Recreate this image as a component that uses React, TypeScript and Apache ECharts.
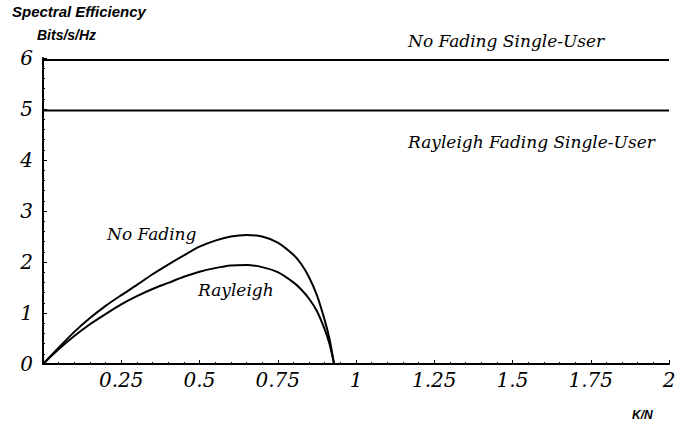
import React, { useEffect, useRef } from "react";
import * as echarts from "echarts";

// Load per dimension K/N
const kOverN = [0, 0.05, 0.1, 0.15, 0.2, 0.25, 0.3, 0.35, 0.4, 0.45, 0.5, 0.55, 0.6, 0.65, 0.7, 0.75, 0.8, 0.825, 0.85, 0.875, 0.9, 0.915, 0.93];

// Spectral efficiency (bits/s/Hz) of the multiuser schemes
const noFading = [0, 0.32, 0.63, 0.9, 1.14, 1.35, 1.55, 1.76, 1.95, 2.13, 2.3, 2.42, 2.5, 2.53, 2.5, 2.38, 2.14, 1.96, 1.7, 1.35, 0.86, 0.5, 0];
const rayleigh = [0, 0.29, 0.55, 0.78, 0.98, 1.17, 1.33, 1.47, 1.59, 1.71, 1.81, 1.88, 1.93, 1.94, 1.9, 1.8, 1.6, 1.46, 1.28, 1.04, 0.68, 0.4, 0];

// Single-user bounds, flat over the whole K/N range
const singleUserRange = [0, 2];
const noFadingSingleUser = 5.96;
const rayleighSingleUser = 4.97;

const xTicks = [0.25, 0.5, 0.75, 1, 1.25, 1.5, 1.75, 2];

const serifItalic = { fontFamily: "DejaVu Serif", fontStyle: "italic" as const };

export default function App() {
  const ref = useRef<HTMLDivElement>(null);

  useEffect(() => {
    if (!ref.current) return;
    const chart = echarts.init(ref.current, null, { renderer: "svg" });

    const pairs = (xs: number[], ys: number[]) => xs.map((x, i) => [x, ys[i]]);
    const flat = (v: number) => singleUserRange.map((x) => [x, v]);

    const lineBase = {
      type: "line" as const,
      symbol: "none",
      silent: true,
      lineStyle: { color: "#000", width: 2 },
    };

    chart.setOption({
      animation: false,
      backgroundColor: "#fff",
      grid: { left: 43, right: 16, top: 58, bottom: 64, containLabel: false },
      xAxis: {
        type: "value",
        min: 0,
        max: 2,
        interval: 0.25,
        splitLine: { show: false },
        axisLine: { lineStyle: { color: "#000", width: 2 } },
        axisTick: { inside: true, length: 4, lineStyle: { color: "#000", width: 1 } },
        minorTick: { show: true, splitNumber: 5, length: 2, lineStyle: { color: "#000", width: 1 } },
        axisLabel: {
          ...serifItalic,
          color: "#000",
          fontSize: 20,
          margin: 6,
          formatter: (v: number) => (xTicks.includes(v) ? String(v) : ""),
        },
      },
      yAxis: {
        type: "value",
        min: 0,
        max: 6,
        interval: 1,
        splitLine: { show: false },
        axisLine: { show: true, lineStyle: { color: "#000", width: 2 } },
        axisTick: { show: true, inside: true, length: 4, lineStyle: { color: "#000", width: 1 } },
        minorTick: { show: true, splitNumber: 5, length: 2, lineStyle: { color: "#000", width: 1 } },
        axisLabel: {
          ...serifItalic,
          color: "#000",
          fontSize: 20,
          margin: 10,
        },
      },
      series: [
        { ...lineBase, name: "No Fading Single-User", data: flat(noFadingSingleUser) },
        { ...lineBase, name: "Rayleigh Fading Single-User", data: flat(rayleighSingleUser) },
        { ...lineBase, name: "No Fading", smooth: 0.3, data: pairs(kOverN, noFading) },
        { ...lineBase, name: "Rayleigh", smooth: 0.3, data: pairs(kOverN, rayleigh) },
      ],
      graphic: [
        {
          type: "text",
          left: 12,
          top: 4,
          style: { text: "Spectral Efficiency", fontFamily: "Liberation Sans", fontWeight: "bold", fontStyle: "italic", fontSize: 15, fill: "#000" },
        },
        {
          type: "text",
          left: 37,
          top: 28,
          style: { text: "Bits/s/Hz", fontFamily: "Liberation Sans", fontWeight: "bold", fontStyle: "italic", fontSize: 14, fill: "#000" },
        },
        {
          type: "text",
          left: 632,
          top: 409,
          style: { text: "K/N", fontFamily: "Liberation Sans", fontWeight: "bold", fontStyle: "italic", fontSize: 12, fill: "#000" },
        },
        {
          type: "text",
          left: 408,
          top: 32,
          style: { text: "No Fading Single-User", ...serifItalic, fontSize: 17, fill: "#000" },
        },
        {
          type: "text",
          left: 408,
          top: 133,
          style: { text: "Rayleigh Fading Single-User", ...serifItalic, fontSize: 17, fill: "#000" },
        },
        {
          type: "text",
          left: 107,
          top: 225,
          style: { text: "No Fading", ...serifItalic, fontSize: 17, fill: "#000" },
        },
        {
          type: "text",
          left: 198,
          top: 281,
          style: { text: "Rayleigh", ...serifItalic, fontSize: 17, fill: "#000" },
        },
      ],
    });

    return () => chart.dispose();
  }, []);

  return (
    <div
      ref={ref}
      style={{ position: "fixed", left: 0, top: 0, width: 685, height: 428, background: "#fff" }}
    />
  );
}
